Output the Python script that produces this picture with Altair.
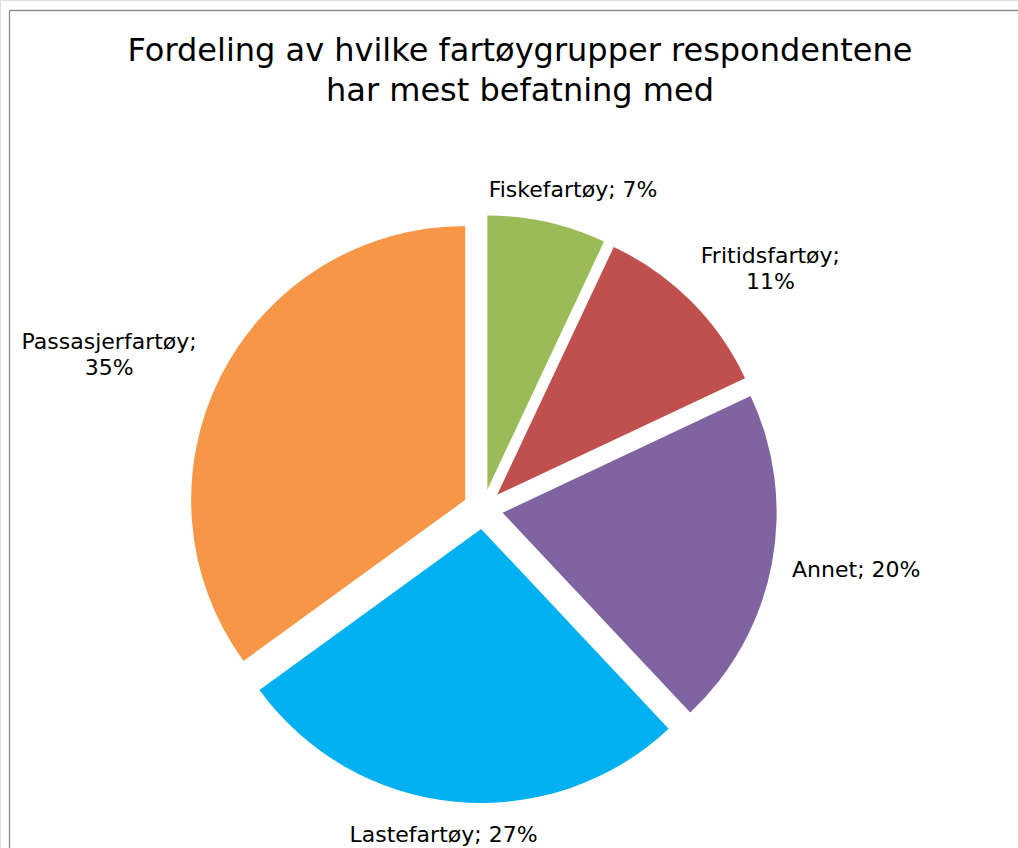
import altair as alt
import pandas as pd

# ---- data ----
categories = ["Fiskefartøy", "Fritidsfartøy", "Annet", "Lastefartøy", "Passasjerfartøy"]
values = [7, 11, 20, 27, 35]
label_texts = ["Fiskefartøy; 7%", "Fritidsfartøy;\n11%", "Annet; 20%", "Lastefartøy; 27%", "Passasjerfartøy;\n35%"]
colors = ["#9BBB59", "#C0504D", "#8064A2", "#00B0F0", "#F79646"]
title_lines = ["Fordeling av hvilke fartøygrupper respondentene", "har mest befatning med"]

# ---- layout/style constants ----
W, H = 1018, 848
CX, CY = 483, 509
RADIUS = 274
EXPLODE = 20
LABEL_R = 314
FS = 22
LH = 26
FONT = "DejaVu Sans"

df = pd.DataFrame({
    "cat": categories,
    "value": values,
    "label": label_texts,
    "order": list(range(len(categories))),
    "nchar": [max(len(s) for s in t.split("\n")) for t in label_texts],
    "nlines": [len(t.split("\n")) for t in label_texts],
})

base = (
    alt.Chart(df)
    .transform_joinaggregate(total="sum(value)")
    .transform_window(cum="sum(value)", sort=[alt.SortField("order")], frame=[None, 0])
    .transform_calculate(
        a1="datum.cum / datum.total * 2 * PI",
        a0="(datum.cum - datum.value) / datum.total * 2 * PI",
    )
    .transform_calculate(mid="(datum.a0 + datum.a1) / 2")
    .transform_calculate(
        ox=f"{CX} + {EXPLODE} * sin(datum.mid)",
        oy=f"{CY} - {EXPLODE} * cos(datum.mid)",
        lw=f"datum.nchar * 0.6 * {FS}",
        lh=f"datum.nlines * {LH}",
    )
    .transform_calculate(
        lx=f"{CX} + ({LABEL_R} + datum.lw / 2) * sin(datum.mid)",
        ly=f"{CY} - ({LABEL_R} + datum.lh / 2) * cos(datum.mid) - (datum.nlines - 1) * {LH} / 2",
    )
)

arcs = base.mark_arc(radius=RADIUS).encode(
    theta=alt.Theta("a0:Q", scale=None, stack=False),
    theta2="a1:Q",
    x=alt.X("ox:Q", scale=None, axis=None),
    y=alt.Y("oy:Q", scale=None, axis=None),
    color=alt.Color("cat:N", scale=alt.Scale(domain=categories, range=colors), legend=None),
)

labels = base.mark_text(
    font=FONT, fontSize=FS, lineHeight=LH, lineBreak="\n",
    align="center", baseline="middle", color="#000000",
).encode(
    x=alt.X("lx:Q", scale=None, axis=None),
    y=alt.Y("ly:Q", scale=None, axis=None),
    text="label:N",
)

frame_df = pd.DataFrame({"k": [0]})
left_rule = alt.Chart(frame_df).mark_rule(color="#8c8c8c", strokeWidth=1.3).encode(
    x=alt.value(9.5), y=alt.value(10.5), y2=alt.value(H)
)
top_rule = alt.Chart(frame_df).mark_rule(color="#8c8c8c", strokeWidth=1.3).encode(
    x=alt.value(9.5), x2=alt.value(W), y=alt.value(10.5)
)

chart = (
    alt.layer(left_rule, top_rule, arcs, labels)
    .properties(
        width=W, height=H,
        padding={"left": 0, "top": 0, "right": 0, "bottom": 0},
        autosize=alt.AutoSizeParams(type="none"),
        title=alt.TitleParams(
            text=title_lines, font=FONT, fontSize=32, fontWeight="normal",
            color="#000000", anchor="middle", lineHeight=40,
            baseline="bottom", offset=0, dy=140, dx=11,
        ),
    )
    .configure_view(stroke=None)
    .configure(background="white")
)

chart.save("out.html", embed_options={"renderer": "svg", "actions": False})
